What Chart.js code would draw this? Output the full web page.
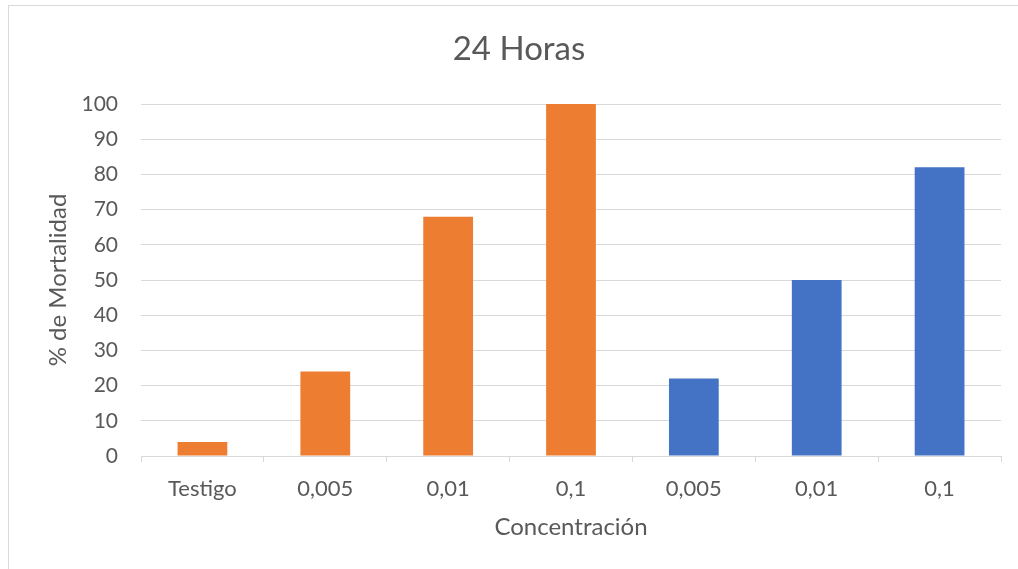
<!DOCTYPE html>
<html>
<head>
<meta charset="utf-8">
<script src="https://cdn.jsdelivr.net/npm/chart.js@4"></script>
<style>
  html, body { margin: 0; padding: 0; background: #fff; }
  #wrap { position: relative; width: 1018px; height: 569px; overflow: hidden; }
  #frame { position: absolute; left: 8px; top: 5px; width: 1040px; height: 600px; border: 1px solid #d9d9d9; box-sizing: border-box; }
  canvas { position: absolute; left: 0; top: 0; }
</style>
</head>
<body>
<div id="wrap">
  <div id="frame"></div>
  <canvas id="c" width="1018" height="569"></canvas>
</div>
<script>
const chartTitle = "24 Horas";
const xAxisTitle = "Concentración";
const yAxisTitle = "% de Mortalidad";
const categories = ["Testigo", "0,005", "0,01", "0,1", "0,005", "0,01", "0,1"];
const mortality = [4, 24, 68, 100, 22, 50, 82];
const barColors = ["#ED7D31", "#ED7D31", "#ED7D31", "#ED7D31", "#4472C4", "#4472C4", "#4472C4"];
const yTicks = [0, 10, 20, 30, 40, 50, 60, 70, 80, 90, 100];

const textColor = "#595959";
const gridColor = "#d9d9d9";
const fontFamily = "Lato, 'Open Sans', sans-serif";

const titlePlugin = {
  id: "excelTitle",
  afterDraw(chart) {
    const ctx = chart.ctx;
    ctx.save();
    ctx.fillStyle = textColor;
    ctx.textAlign = "center";
    ctx.textBaseline = "middle";
    ctx.font = "normal 33px " + fontFamily;
    ctx.fillText(chartTitle, 519, 49);
    ctx.restore();
  }
};

new Chart(document.getElementById("c"), {
  type: "bar",
  data: {
    labels: categories,
    datasets: [{
      data: mortality,
      backgroundColor: barColors,
      borderWidth: 0,
      categoryPercentage: 1,
      barPercentage: 0.405
    }]
  },
  options: {
    responsive: false,
    animation: false,
    devicePixelRatio: 1,
    layout: { padding: { left: 0, right: 17, top: 104, bottom: 0 } },
    plugins: {
      legend: { display: false },
      tooltip: { enabled: false },
      title: { display: false }
    },
    scales: {
      x: {
        offset: true,
        grid: { display: true, drawOnChartArea: false, drawTicks: true, tickLength: 6, offset: true, color: gridColor, lineWidth: 1 },
        border: { display: true, color: gridColor, width: 1 },
        ticks: { color: textColor, font: { family: fontFamily, size: 22 }, padding: 14, maxRotation: 0, autoSkip: false },
        title: { display: true, text: xAxisTitle, color: textColor, font: { family: fontFamily, size: 24 }, padding: { top: 0, bottom: 27 } },
        afterFit: (s) => { s.height = 113; }
      },
      y: {
        min: 0,
        max: 100,
        afterBuildTicks: (s) => { s.ticks = yTicks.map(v => ({ value: v })); },
        grid: { color: gridColor, lineWidth: 1, drawTicks: false },
        border: { display: false },
        ticks: { color: textColor, font: { family: fontFamily, size: 21 }, padding: 23 },
        title: { display: true, text: yAxisTitle, color: textColor, font: { family: fontFamily, size: 24 }, padding: { top: 44, bottom: 0 } },
        afterFit: (s) => { s.width = 141; }
      }
    }
  },
  plugins: [titlePlugin]
});
</script>
</body>
</html>
